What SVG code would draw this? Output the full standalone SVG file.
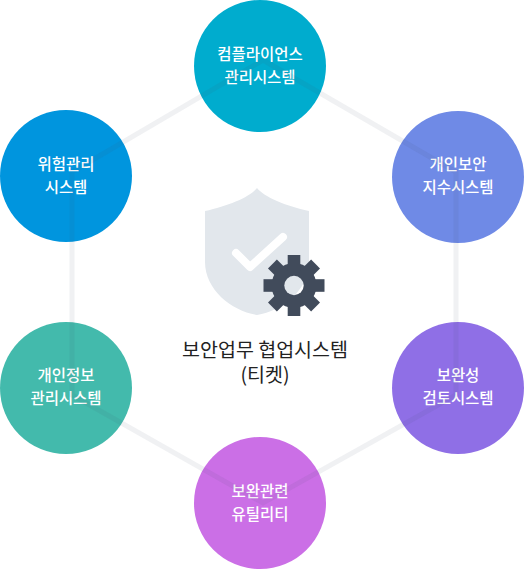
<svg xmlns="http://www.w3.org/2000/svg" width="524" height="569" viewBox="0 0 524 569">
<style>
.l{font-family:"Noto Sans CJK KR","Noto Sans",sans-serif;font-size:15.5px;font-weight:500;fill:#fff;text-anchor:middle;letter-spacing:-0.05px}
.c{font-family:"Noto Sans CJK KR","Noto Sans",sans-serif;font-size:19.5px;fill:#222;text-anchor:middle;letter-spacing:0}
</style>
<defs><mask id="hole" maskUnits="userSpaceOnUse" x="250" y="240" width="90" height="90"><rect x="250" y="240" width="90" height="90" fill="#fff"/><circle cx="294" cy="285.500" r="9.700" fill="#000"/></mask></defs>
<g id="n1"><circle cx="260" cy="66" r="66" fill="#00acce"/><text class="l" x="260" y="60">컴플라이언스</text><text class="l" x="260" y="83">관리시스템</text></g>
<g id="n2"><circle cx="458" cy="177" r="66" fill="#6f8ae6"/><text class="l" x="458" y="170">개인보안</text><text class="l" x="458" y="193">지수시스템</text></g>
<g id="n3"><circle cx="458" cy="388" r="66" fill="#8f6fe6"/><text class="l" x="458" y="381">보완성</text><text class="l" x="458" y="404">검토시스템</text></g>
<g id="n4"><circle cx="260" cy="503" r="66" fill="#cb6fe6"/><text class="l" x="260" y="497">보완관련</text><text class="l" x="260" y="520">유틸리티</text></g>
<g id="n5"><circle cx="66" cy="388" r="66" fill="#43baac"/><text class="l" x="66" y="381">개인정보</text><text class="l" x="66" y="404">관리시스템</text></g>
<g id="n6"><circle cx="66" cy="176" r="66" fill="#0095de"/><text class="l" x="66" y="170">위험관리</text><text class="l" x="66" y="193">시스템</text></g>
<g id="connectors"><path d="M263 60L456 172V395L263 503L72 395V172Z" fill="none" stroke="#465060" stroke-opacity="0.08" stroke-width="5"/></g>
<g id="center">
<path d="M257 188C250 197 228 206 205 211V262C205 290 232 311 257 315C282 311 309 290 309 262V211C286 206 264 197 257 188Z" fill="#e2e7ec"/>
<path d="M236 253L250 267L283 237" fill="none" stroke="#fff" stroke-width="8" stroke-linecap="round" stroke-linejoin="round"/>
<g fill="#414b5b" mask="url(#hole)"><circle cx="294" cy="285.500" r="22.500"/><rect x="287.700" y="255" width="12.600" height="61"/><rect x="263.500" y="279.200" width="61" height="12.600"/><rect x="287.700" y="255" width="12.600" height="61" transform="rotate(45 294 285.500)"/><rect x="287.700" y="255" width="12.600" height="61" transform="rotate(-45 294 285.500)"/></g>
<text class="c" x="265" y="357">보안업무 협업시스템</text><text class="c" x="265" y="382">(티켓)</text>
</g>
</svg>
